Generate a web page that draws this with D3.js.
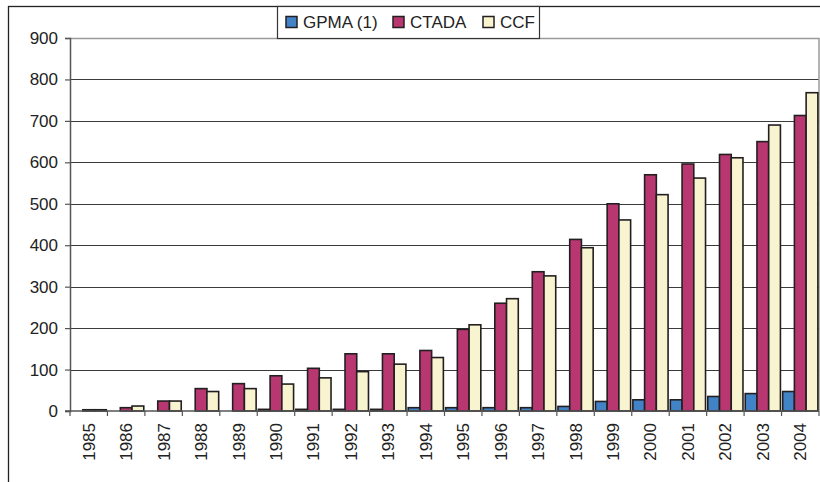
<!DOCTYPE html>
<html>
<head>
<meta charset="utf-8">
<script src="https://cdn.jsdelivr.net/npm/d3@7"></script>
<style>
  body { margin: 0; background: #fff; }
  svg { display: block; font-family: Arial, "Liberation Sans", sans-serif; }
</style>
</head>
<body>
<svg id="chart" width="820" height="482"></svg>
<script>
// chart data
var years = ["1985","1986","1987","1988","1989","1990","1991","1992","1993","1994",
             "1995","1996","1997","1998","1999","2000","2001","2002","2003","2004"];
var seriesNames = ["GPMA (1)", "CTADA", "CCF"];
var gpma  = [0, 0, 0, 0, 0, 4, 4, 4, 4, 8, 8, 8, 8, 11, 23, 27, 27, 35, 42, 47];
var ctada = [3, 8, 24, 54, 66, 85, 103, 138, 138, 146, 197, 260, 336, 414, 500, 570, 596, 619, 650, 713];
var ccf   = [3, 12, 24, 47, 54, 65, 80, 95, 113, 129, 208, 271, 326, 394, 461, 522, 562, 611, 690, 768];
var yTicks = [0, 100, 200, 300, 400, 500, 600, 700, 800, 900];
var colors = ["#4283c8", "#b83771", "#f8f4cf"];

var svg = d3.select("#chart");
// note: "top" is a reserved window property, so use plot* names
var plotLeft = 70, plotRight = 819, plotTop = 38, plotBottom = 411;

var x = d3.scaleBand().domain(years).range([plotLeft, plotRight]).paddingInner(0.06).paddingOuter(0.03);
var xs = d3.scaleBand().domain(seriesNames).range([0, x.bandwidth()]);
var y = d3.scaleLinear().domain([0, 900]).range([plotBottom, plotTop]);

// outer frame
svg.append("rect")
    .attr("x", 8.5).attr("y", 6.5)
    .attr("width", 830).attr("height", 500)
    .attr("fill", "none").attr("stroke", "#222").attr("stroke-width", 1.3);

// gridlines
svg.append("g").selectAll("line")
  .data(yTicks.filter(function(d) { return d > 0 && d < 900; }))
  .enter().append("line")
    .attr("x1", plotLeft).attr("x2", plotRight)
    .attr("y1", function(d) { return Math.round(y(d)) + 0.5; })
    .attr("y2", function(d) { return Math.round(y(d)) + 0.5; })
    .attr("stroke", "#3a3a3a").attr("stroke-width", 1.2);

// plot area border top/right (grey)
svg.append("path")
    .attr("d", "M" + plotLeft + "," + (plotTop + 0.5) + "H" + plotRight + "V" + plotBottom)
    .attr("fill", "none").attr("stroke", "#9a9a9a").attr("stroke-width", 1.5);

// bars
var all = [gpma, ctada, ccf];
var groups = svg.append("g").selectAll("g")
  .data(years)
  .enter().append("g")
    .attr("transform", function(d) { return "translate(" + x(d) + ",0)"; });

groups.selectAll("rect")
  .data(function(d, i) {
    return seriesNames.map(function(s, k) { return {key: s, k: k, value: all[k][i]}; })
      .filter(function(e) { return e.value > 0; });
  })
  .enter().append("rect")
    .attr("x", function(d) { return xs(d.key); })
    .attr("width", xs.bandwidth())
    .attr("y", function(d) { return y(d.value); })
    .attr("height", function(d) { return plotBottom - y(d.value); })
    .attr("fill", function(d) { return colors[d.k]; })
    .attr("stroke", "#231f20").attr("stroke-width", 1.6);

// y axis
var yAxis = d3.axisLeft(y).tickValues(yTicks).tickSize(5).tickPadding(7);
var gy = svg.append("g").attr("transform", "translate(" + plotLeft + ",0)").call(yAxis);
gy.select(".domain").attr("stroke", "#555").attr("stroke-width", 1.5);
gy.selectAll(".tick line").attr("stroke", "#555").attr("stroke-width", 1.2);
gy.selectAll("text").attr("font-size", 17).attr("fill", "#222")
    .attr("font-family", "Arial, 'Liberation Sans', sans-serif");

// x axis: ticks at band boundaries
var gx = svg.append("g").attr("transform", "translate(0," + plotBottom + ")");
gx.append("line").attr("x1", plotLeft - 5).attr("x2", plotRight)
    .attr("stroke", "#555").attr("stroke-width", 1.5);
var step = x.step();
var bounds = d3.range(years.length + 1).map(function(i) { return x(years[0]) - x.paddingOuter() * step + i * step; });
gx.selectAll(".tk").data(bounds).enter().append("line")
    .attr("x1", function(d) { return d; }).attr("x2", function(d) { return d; })
    .attr("y1", 0).attr("y2", 5)
    .attr("stroke", "#555").attr("stroke-width", 1.2);
gx.selectAll("text").data(years).enter().append("text")
    .attr("transform", function(d) { return "translate(" + (x(d) + x.bandwidth() / 2 + 6) + ",12) rotate(-90)"; })
    .attr("text-anchor", "end")
    .attr("font-size", 17).attr("fill", "#222")
    .text(function(d) { return d; });

// legend
var lg = svg.append("g");
lg.append("rect")
    .attr("x", 277.5).attr("y", 6.5).attr("width", 262).attr("height", 32)
    .attr("fill", "#fff").attr("stroke", "#333").attr("stroke-width", 1.2);
var lx = [286, 393, 483];
seriesNames.forEach(function(s, k) {
  lg.append("rect")
      .attr("x", lx[k]).attr("y", 16.5).attr("width", 11).attr("height", 11)
      .attr("fill", colors[k]).attr("stroke", "#231f20").attr("stroke-width", 1.5);
  lg.append("text")
      .attr("x", lx[k] + 17).attr("y", 28)
      .attr("font-size", 17).attr("fill", "#222")
      .text(s);
});
</script>
</body>
</html>
